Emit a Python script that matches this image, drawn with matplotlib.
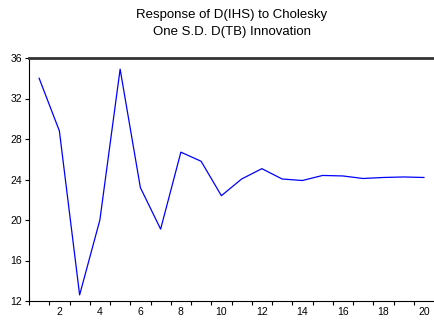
import matplotlib
matplotlib.use("Agg")
import matplotlib.pyplot as plt

plt.rcParams['font.family'] = ['Liberation Sans', 'DejaVu Sans']

periods = list(range(1, 21))
response = [34.0, 28.8, 12.6, 20.0, 34.9, 23.2, 19.1, 26.7, 25.8, 22.4,
            24.05, 25.07, 24.05, 23.9, 24.4, 24.35, 24.1, 24.2, 24.25, 24.2]
yticks = [12, 16, 20, 24, 28, 32, 36]
xlabels = [2, 4, 6, 8, 10, 12, 14, 16, 18, 20]

fig = plt.figure(figsize=(4.34, 3.22), dpi=100)
ax = fig.add_axes([29/434, 1-301/322, 1-29/434, (301-58)/322])
ax.plot(periods, response, color='#0000ff', lw=0.9)

ax.set_xlim(0.5, 20.5)
ax.set_ylim(12, 36)
ax.set_yticks(yticks)
ax.set_yticklabels([str(v) for v in yticks], fontsize=7.5)
ax.set_xticks([p + 0.5 for p in range(0, 20)])
ax.set_xticklabels([])
ax.set_xticks(xlabels, minor=True)
ax.set_xticklabels([str(v) for v in xlabels], minor=True, fontsize=7.5)
ax.tick_params(axis='x', which='minor', length=0, pad=4)
ax.tick_params(axis='x', which='major', length=3, width=0.8, direction='out')
ax.tick_params(axis='y', length=3, width=0.8, direction='out', pad=2)

ax.spines['right'].set_visible(False)
ax.spines['top'].set_linewidth(2)
ax.spines['top'].set_color('#333333')
ax.spines['left'].set_linewidth(0.8)
ax.spines['bottom'].set_linewidth(0.8)

fig.text((29 + 434) / 2 / 434, 1 - 23.5 / 322,
         "Response of D(IHS) to Cholesky\nOne S.D. D(TB) Innovation",
         fontsize=9.5, ha='center', va='center', linespacing=1.45)

fig.savefig("out.png", dpi=100)
